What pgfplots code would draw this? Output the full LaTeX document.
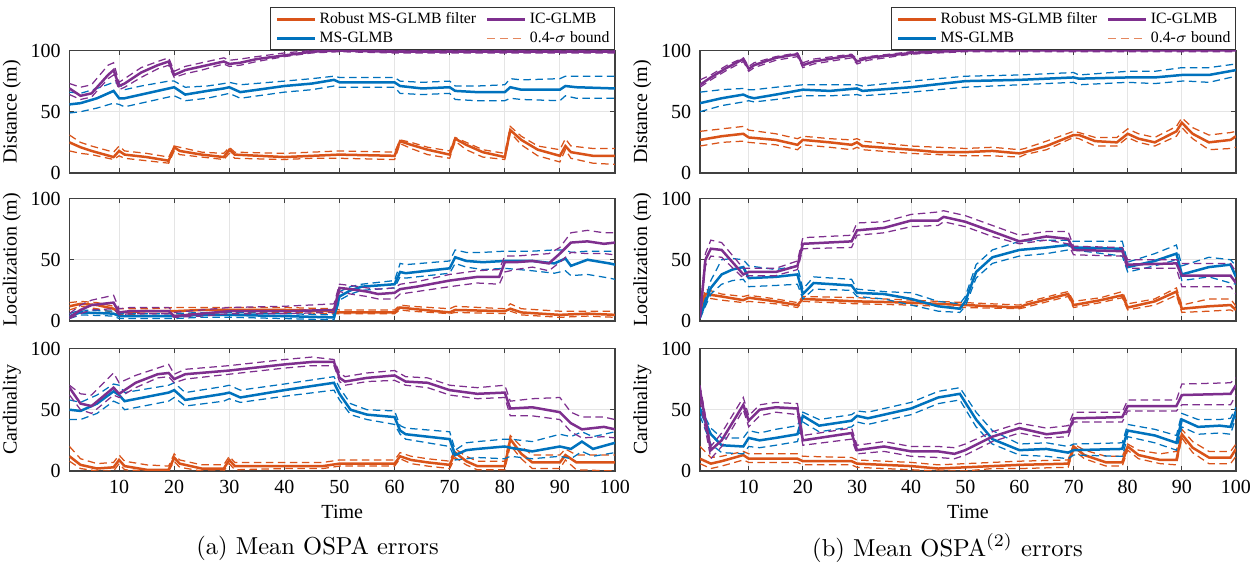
\documentclass[border=0pt]{standalone}
\usepackage{pgfplots}
\pgfplotsset{compat=1.18}
\usepackage{pgfplotstable}
\usepackage{fontspec}
\newfontfamily\tms{Liberation Serif}
\definecolor{morange}{rgb}{0.85,0.325,0.098}
\definecolor{mblue}{rgb}{0,0.447,0.741}
\definecolor{mpurple}{rgb}{0.494,0.184,0.556}

% ---------------- (a) Distance
\pgfplotstableread{
t m lo hi
1 25 18 31
3 21 16 25
5 18 15 22
9 13 11 17
10 18 14 22
11 15 12 18
15 13 10 16
19 10 8 13
20 21 18 22
21 18 15 21
25 15 13 17
29 13 11 16
30 19 16 21
31 15 12 17
40 13 11 16
45 14 12 17
50 15 12 18
60 14 11 17
61 26 24 27
63 23 20 25
66 19 15 21
70 15 12 18
71 28 26 29
73 23 19 25
76 17 13 19
80 13 11 16
81 35 33 38
83 27 23 30
86 19 14 22
90 14 9 19
91 22 19 28
92 17 12 22
96 14 8 20
100 14 7 20
}\aDo
\pgfplotstableread{
t m lo hi
1 56 49 66
3 57 50 65
6 61 53 69
9 67 57 74
10 61 56 73
11 61 54 68
14 64 57 71
19 69 62 75
20 70 63 75
22 64 59 70
26 67 61 71
29 69 64 73
30 70 65 74
32 66 61 72
40 71 66 75
45 73 68 77
49 76 71 79
50 74 70 78
60 74 70 78
61 71 65 75
65 69 64 74
70 70 65 75
71 67 60 71
75 66 59 71
80 66 59 72
81 70 61 77
83 68 60 76
90 68 59 77
91 71 63 79
93 70 61 79
100 69 61 79
}\aDb
\pgfplotstableread{
t m lo hi
1 69 64 73
3 63 60 70
5 65 62 72
8 80 77 88
9 84 80 90
10 71 68 74
11 73 70 77
14 82 78 86
17 88 85 91
19 91 88 94
20 80 78 83
22 84 81 87
25 87 84 90
29 91 89 94
30 89 87 92
32 90 88 93
35 93 91 95
40 96 95 98
45 99 98 100
50 100 99 100
60 99 98 100
70 99 98 100
80 99 98 100
90 99 98 100
100 99 98 100
}\aDp
% ---------------- (b) Distance
\pgfplotstableread{
t m lo hi
1 27 22 34
5 30 25 36
9 32 26 38
10 29 25 35
15 27 23 32
19 23 19 28
20 27 23 30
25 25 21 28
29 23 19 27
30 25 21 28
31 22 19 26
40 19 16 22
45 17 15 21
50 17 14 20
55 18 14 21
60 16 13 19
61 17 15 20
65 22 19 26
70 31 29 34
71 31 28 33
74 26 22 29
78 25 22 29
80 32 29 36
82 28 25 32
85 25 22 29
89 34 30 38
90 41 37 45
92 32 28 37
95 25 19 31
99 27 20 33
100 30 21 34
}\bDo
\pgfplotstableread{
t m lo hi
1 57 50 66
5 61 55 68
9 64 58 69
10 62 59 68
11 61 58 68
15 64 60 70
20 68 63 72
25 67 63 72
30 69 64 72
31 67 63 71
40 70 66 75
50 75 70 79
60 76 72 80
70 78 74 82
71 77 72 80
80 78 74 83
85 78 73 83
90 80 75 86
91 80 75 86
95 80 74 86
100 84 79 89
}\bDb
\pgfplotstableread{
t m lo hi
1 72 70 76
3 78 76 80
6 86 84 88
9 93 91 94
10 85 83 87
11 88 86 90
15 94 92 95
19 97 95 98
20 88 86 90
22 91 89 93
29 96 94 97
30 91 89 93
32 94 92 95
40 98 97 99
50 100 99 100
100 100 99 100
}\bDp
% ---------------- (a) Localization
\pgfplotstableread{
t m lo hi
1 12 9 15
3 14 12 16
6 13 10 15
9 10 7 12
10 7 5 10
15 8 6 10
20 8 6 11
25 9 6 11
30 9 7 11
40 9 7 11
49 8 6 10
50 7 6 9
60 7 6 9
61 11 9 13
63 10 8 12
70 7 6 10
71 9 7 12
80 8 6 10
81 10 8 14
83 7 5 10
90 5 3 8
95 6 4 8
100 5 3 8
}\aLo
\pgfplotstableread{
t m lo hi
1 4 2 6
3 7 5 9
9 6 4 8
10 4 2 6
15 4 2 6
20 4 2 6
25 5 3 7
30 5 3 7
40 4 2 6
48 3 1 5
49 3 1 5
50 20 17 24
52 25 22 28
54 28 25 30
60 30 27 33
61 40 36 47
62 39 35 46
70 43 39 49
71 52 47 58
73 49 44 56
76 48 42 56
80 49 43 57
85 49 41 57
89 47 39 58
90 49 40 58
91 51 41 58
92 45 37 56
95 50 38 57
99 47 35 57
100 46 34 57
}\aLb
\pgfplotstableread{
t m lo hi
1 3 2 6
3 9 6 13
5 13 9 17
9 15 10 21
10 7 5 10
12 8 6 11
19 8 6 11
20 4 3 7
25 6 4 9
30 8 6 11
40 8 6 12
49 9 7 14
50 27 24 30
52 26 22 29
55 24 20 27
57 22 18 26
60 23 18 27
61 26 22 30
64 28 24 32
70 33 28 38
75 36 31 41
79 36 30 42
80 48 40 53
82 48 42 53
85 49 44 54
88 47 41 55
90 55 48 60
92 64 56 72
95 65 55 74
98 63 55 72
100 64 54 72
}\aLp
% ---------------- (b) Localization
\pgfplotstableread{
t m lo hi
1 5 4 8
2 22 19 26
5 20 17 22
9 17 15 20
10 19 16 21
15 16 14 18
19 13 11 15
20 18 16 20
30 16 14 19
40 15 13 17
50 13 11 15
60 11 10 13
61 13 11 15
68 21 19 23
69 22 20 24
70 13 11 16
75 17 15 19
79 21 19 24
80 11 9 14
85 16 13 18
89 24 21 27
90 10 7 13
95 12 8 18
99 13 9 18
100 9 7 12
}\bLo
\pgfplotstableread{
t m lo hi
1 3 2 4
3 27 22 33
5 38 30 50
7 42 33 51
9 44 34 50
10 35 28 45
15 36 29 42
19 38 30 45
20 22 18 26
22 31 26 36
29 29 25 34
30 23 20 26
35 22 18 24
40 18 13 23
45 12 8 16
49 10 7 14
50 16 12 20
52 40 35 46
55 52 47 58
60 58 53 65
65 60 55 66
69 62 58 66
70 60 58 65
79 59 53 65
80 44 40 48
85 49 45 55
89 55 50 62
90 38 33 45
95 44 36 52
99 46 31 50
100 36 30 45
}\bLb
\pgfplotstableread{
t m lo hi
1 3 2 5
2 50 45 55
3 59 53 66
5 58 52 64
9 38 35 43
10 40 37 43
15 40 37 43
19 45 42 49
20 63 59 68
29 65 60 70
30 74 70 80
35 76 72 81
40 82 77 87
45 82 78 89
46 85 81 90
50 81 77 86
55 73 69 78
60 65 63 70
65 69 66 73
69 67 63 73
70 58 54 61
79 57 53 60
80 46 43 50
89 47 43 50
90 37 28 47
99 37 28 47
100 31 22 40
}\bLp
% ---------------- (a) Cardinality
\pgfplotstableread{
t m lo hi
1 12 8 20
3 5 2 10
6 2 0 6
9 3 0 7
10 9 6 13
11 4 1 8
15 1 0 5
19 1 0 4
20 11 8 14
21 6 3 9
25 2 0 5
29 2 0 5
30 9 6 12
31 4 1 7
40 4 2 7
47 4 2 7
50 6 4 9
60 6 4 9
61 12 10 15
63 9 6 12
66 7 4 10
70 5 2 8
71 15 11 18
73 8 5 12
75 4 1 8
80 4 1 8
81 26 21 29
83 14 10 20
85 7 2 13
90 7 2 13
91 13 9 18
93 7 1 13
100 7 0 13
}\aCo
\pgfplotstableread{
t m lo hi
1 50 42 58
3 49 42 56
6 55 47 62
9 65 57 71
10 62 55 70
11 57 50 64
19 64 57 70
20 66 60 72
22 58 53 64
29 63 57 69
30 64 59 70
32 60 56 66
40 66 61 71
49 72 66 77
50 63 58 68
52 50 46 55
55 46 42 50
60 44 38 49
61 33 30 37
62 30 26 35
70 26 20 32
71 13 9 17
73 17 10 23
75 18 11 24
80 20 10 26
81 19 12 26
85 16 10 24
90 20 12 30
92 18 10 28
94 24 16 32
96 18 12 28
100 23 15 32
}\aCb
\pgfplotstableread{
t m lo hi
1 68 62 70
3 55 50 63
5 53 47 62
9 68 62 80
10 63 60 72
13 72 68 78
17 79 76 84
19 80 77 87
20 75 72 79
22 79 75 83
30 82 79 86
40 87 84 91
45 89 86 93
49 89 86 91
50 76 73 80
51 73 70 77
55 76 73 80
60 78 74 82
62 73 70 77
66 72 68 76
70 66 62 70
75 63 59 68
80 64 60 70
81 51 45 57
85 52 45 59
90 48 42 60
92 39 32 48
94 34 27 44
98 36 28 44
100 34 27 42
}\aCp
% ---------------- (b) Cardinality
\pgfplotstableread{
t m lo hi
1 10 6 20
3 6 2 11
5 8 4 12
9 13 9 16
10 10 7 14
19 10 7 14
20 8 5 12
29 8 5 11
30 6 3 9
40 4 1 7
45 2 0 5
50 3 0 6
55 4 2 7
60 5 2 8
69 6 3 9
70 20 17 22
72 13 10 17
76 7 4 12
79 7 4 12
80 20 17 22
82 13 10 17
86 9 6 14
89 9 5 16
90 30 27 34
92 19 15 24
95 11 6 16
99 11 6 16
100 18 12 22
}\bCo
\pgfplotstableread{
t m lo hi
1 50 45 52
3 30 22 35
5 21 15 27
9 20 14 27
10 27 20 33
12 25 19 31
15 27 21 34
19 30 24 37
20 45 40 48
23 37 32 42
29 41 36 46
30 45 40 49
32 43 38 48
40 51 46 56
45 60 55 65
49 63 58 68
52 42 36 48
55 26 22 33
60 17 13 22
65 18 12 23
69 15 10 20
70 17 13 22
79 18 12 23
80 33 28 38
85 29 23 34
89 23 17 29
90 42 36 47
93 36 30 42
97 37 31 42
99 36 30 43
100 49 44 52
}\bCb
\pgfplotstableread{
t m lo hi
1 66 58 70
3 17 10 20
5 25 20 31
9 54 50 60
10 41 36 45
12 50 45 54
15 52 48 56
19 51 46 55
20 25 21 29
29 31 26 35
30 17 14 21
35 20 16 24
40 16 12 20
45 16 11 20
48 14 10 19
50 17 13 22
55 28 24 32
60 35 31 39
65 30 27 35
69 32 28 37
70 43 40 48
79 44 40 48
80 53 49 58
89 53 49 58
90 62 54 71
99 63 54 72
100 70 62 76
}\bCp

\newcommand{\tf}{\tms\fontsize{8}{9}\selectfont}
\newcommand{\series}[2]{%
  \addplot[#1,bnd] table[x=t,y=lo]{#2};
  \addplot[#1,bnd] table[x=t,y=hi]{#2};
  \addplot[#1,mn] table[x=t,y=m]{#2};}
\newcommand{\smp}[1]{\tikz[baseline=-0.55ex]\draw[#1] (0pt,0pt) -- (15pt,0pt);}
\newcommand{\legtab}{%
  \begin{tabular}{@{}l@{\hspace{1.5pt}}l@{\hspace{4pt}}l@{\hspace{1.5pt}}l@{}}
  \smp{morange, line width=1pt} & Robust MS-GLMB filter &
  \smp{mpurple, line width=1pt} & IC-GLMB \\
  \smp{mblue, line width=1pt} & MS-GLMB &
  \smp{morange!70, line width=0.5pt, dash pattern=on 3.2pt off 2pt} & 0.4-$\sigma$ bound
  \end{tabular}}

\pgfplotsset{
  mn/.style={line width=1pt, forget plot},
  bnd/.style={line width=0.5pt, dash pattern=on 3pt off 1.8pt, forget plot},
  panel/.style={
    scale only axis, anchor=south west, height=49pt,
    xmin=1, xmax=100, ymin=0, ymax=100,
    xtick={10,20,...,100}, ytick={0,50,100},
    grid=major, major grid style={gray!20, line width=0.35pt},
    axis line style={black!75, line width=0.45pt},
    tick style={black!75, line width=0.4pt}, major tick length=2pt, tick align=inside,
    /pgf/number format/assume math mode=true,
    ticklabel style={font=\tf},
    label style={font=\tf},
    xlabel style={yshift=2pt},
    ylabel style={yshift=-3pt},
  },
  lp/.style={panel, at={(27.8pt,#1)}, width=218.2pt},
  rp/.style={panel, at={(280pt,#1)}, width=214.4pt},
  notick/.style={xticklabels={}},
}
\tikzset{legbox/.style={draw=black!80, line width=0.4pt, fill=white, anchor=south east,
  inner xsep=2pt, inner ysep=0.8pt, font=\tms\fontsize{6.3}{7.6}\selectfont}}

\begin{document}
\begin{tikzpicture}[x=1pt,y=1pt]
\useasboundingbox (0,0) rectangle (504,226.8);
% ===== left column
\begin{axis}[lp=157.6pt, notick, ylabel={Distance (m)}, name=aD]
\series{morange}{\aDo}
\series{mblue}{\aDb}
\series{mpurple}{\aDp}
\end{axis}
\begin{axis}[lp=98.4pt, notick, ylabel={Localization (m)}]
\series{morange}{\aLo}
\series{mblue}{\aLb}
\series{mpurple}{\aLp}
\end{axis}
\begin{axis}[lp=38.4pt, ylabel={Cardinality}, xlabel={Time}]
\series{morange}{\aCo}
\series{mblue}{\aCb}
\series{mpurple}{\aCp}
\end{axis}
% ===== right column
\begin{axis}[rp=157.6pt, notick, ylabel={Distance (m)}, name=bD]
\series{morange}{\bDo}
\series{mblue}{\bDb}
\series{mpurple}{\bDp}
\end{axis}
\begin{axis}[rp=98.4pt, notick, ylabel={Localization (m)}]
\series{morange}{\bLo}
\series{mblue}{\bLb}
\series{mpurple}{\bLp}
\end{axis}
\begin{axis}[rp=38.4pt, ylabel={Cardinality}, xlabel={Time}]
\series{morange}{\bCo}
\series{mblue}{\bCb}
\series{mpurple}{\bCp}
\end{axis}
% legends
\node[legbox] at (aD.north east) {\legtab};
\node[legbox] at (bD.north east) {\legtab};
% captions
\node[font=\fontsize{9.8}{11}\selectfont] at (127,7.6) {(a) Mean OSPA errors};
\node[font=\fontsize{9.8}{11}\selectfont] at (379,7.6) {(b) Mean OSPA$^{(2)}$ errors};
\end{tikzpicture}
\end{document}
